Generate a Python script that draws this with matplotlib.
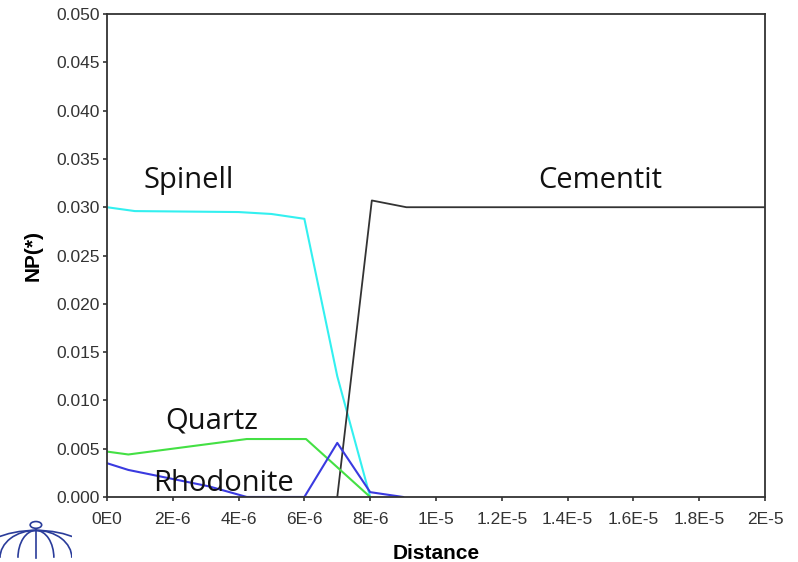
import matplotlib
matplotlib.use("Agg")
import matplotlib.pyplot as plt
from matplotlib.patches import Arc, Circle
import numpy as np

# phase fractions vs distance
spinell_x = [0, 0.85e-6, 4e-6, 5e-6, 6e-6, 7e-6, 8e-6]
spinell_y = [0.0300, 0.0296, 0.0295, 0.0293, 0.0288, 0.0125, 0.0]

cementit_x = [7e-6, 8.05e-6, 9.1e-6, 2e-5]
cementit_y = [0.0, 0.0307, 0.0300, 0.0300]

quartz_x = [0, 0.65e-6, 4.25e-6, 6.05e-6, 8e-6]
quartz_y = [0.0047, 0.0044, 0.0060, 0.0060, 0.0]

rhodonite_x = [0, 0.65e-6, 3.1e-6, 4.25e-6, 6e-6, 7e-6, 8e-6, 9e-6]
rhodonite_y = [0.0035, 0.0028, 0.0011, 0.0, 0.0, 0.0056, 0.0005, 0.0]

xticks = np.arange(0, 2.01e-5, 2e-6)
xlabels = ["0E0", "2E-6", "4E-6", "6E-6", "8E-6", "1E-5",
           "1.2E-5", "1.4E-5", "1.6E-5", "1.8E-5", "2E-5"]
yticks = np.arange(0, 0.0501, 0.005)

plt.rcParams["font.family"] = ["Liberation Sans", "DejaVu Sans"]

fig = plt.figure(figsize=(7.98, 5.62), dpi=100)
ax = fig.add_axes([0.134, 0.1157, 0.8247, 0.8593])

ax.plot(spinell_x, spinell_y, color="#33f0f0", lw=1.5)
ax.plot(cementit_x, cementit_y, color="#333333", lw=1.3)
ax.plot(quartz_x, quartz_y, color="#44e044", lw=1.5)
ax.plot(rhodonite_x, rhodonite_y, color="#3a3ae0", lw=1.5)

ax.set_xlim(0, 2e-5)
ax.set_ylim(0, 0.05)
ax.set_xticks(xticks)
ax.set_xticklabels(xlabels)
ax.set_yticks(yticks)
ax.set_yticklabels([f"{v:.3f}" for v in yticks])
ax.tick_params(labelsize=12.5, colors="#333333", length=3, width=1.2)
ax.tick_params(axis="x", pad=8)
ax.tick_params(axis="y", pad=2)
for s in ax.spines.values():
    s.set_linewidth(1.3)
    s.set_color("#333333")

ax.set_xlabel("Distance", fontsize=15, fontweight="bold", labelpad=12)
ax.set_ylabel("NP(*)", fontsize=15, fontweight="bold", labelpad=10)

lab = dict(fontsize=21, family=["Open Sans", "DejaVu Sans"], color="#111111")
ax.text(1.1e-6, 0.0320, "Spinell", **lab)
ax.text(13.1e-6, 0.0320, "Cementit", **lab)
ax.text(1.76e-6, 0.0071, "Quartz", **lab)
ax.text(1.4e-6, 0.0006, "Rhodonite", **lab)

# little logo in the bottom-left corner
lg = fig.add_axes([0.0, 0.0, 0.09, 0.075])
lg.set_xlim(0, 1)
lg.set_ylim(0, 1)
lg.axis("off")
for w in [1.6, 1.0, 0.5]:
    lg.add_patch(Arc((0.5, 0.1), w, 1.3, theta1=0, theta2=180, color="#2a3c9a", lw=1.2))
lg.plot([0.5, 0.5], [0.1, 0.78], color="#2a3c9a", lw=1.2)
lg.add_patch(Circle((0.5, 0.88), 0.08, fill=False, color="#2a3c9a", lw=1.2))

fig.savefig("out.png", dpi=100)
